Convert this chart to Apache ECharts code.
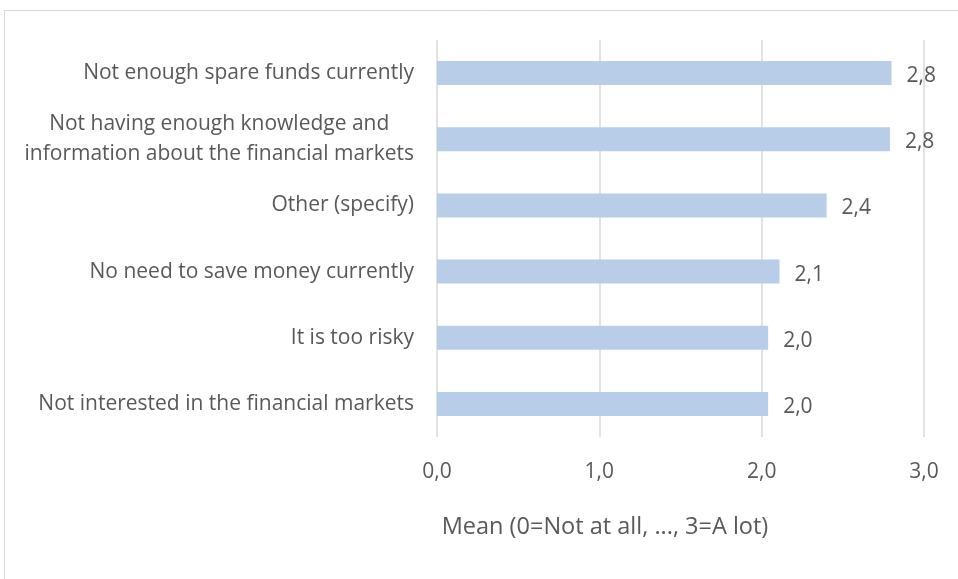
<!DOCTYPE html>
<html>
<head>
<meta charset="utf-8">
<script src="https://cdn.jsdelivr.net/npm/echarts@6/dist/echarts.min.js"></script>
<style>
  html, body { margin: 0; padding: 0; background: #ffffff; }
  #chart { width: 958px; height: 579px; }
</style>
</head>
<body>
<div id="chart"></div>
<script>
// Reasons for not investing, mean rating per reason
const categories = [
  'Not enough spare funds currently',
  'Not having enough knowledge and\ninformation about the financial markets',
  'Other (specify)',
  'No need to save money currently',
  'It is too risky',
  'Not interested in the financial markets'
];
const means = [2.80, 2.79, 2.40, 2.11, 2.04, 2.04];
const xTicks = [0, 1, 2, 3];
const xAxisTitle = 'Mean (0=Not at all, ..., 3=A lot)';

const FONT = '"Open Sans"';
const TEXT = '#595959';
const LABEL_SIZE = 21;
const fmt = v => v.toFixed(1).replace('.', ',');

const chart = echarts.init(document.getElementById('chart'), null, { renderer: 'canvas' });
chart.setOption({
  backgroundColor: '#ffffff',
  animation: false,
  graphic: [
    {
      type: 'rect',
      shape: { x: 4.5, y: 10.5, width: 1200, height: 1200 },
      style: { fill: 'none', stroke: '#d9d9d9', lineWidth: 1 },
      silent: true
    },
    {
      type: 'text',
      x: 605, y: 527,
      style: {
        text: xAxisTitle, fill: TEXT, font: '23.5px ' + FONT,
        align: 'center', verticalAlign: 'middle'
      }
    }
  ],
  grid: { left: 437, right: 34, top: 40, bottom: 142, containLabel: false },
  xAxis: {
    type: 'value',
    min: xTicks[0], max: xTicks[xTicks.length - 1], interval: 1,
    axisLine: { show: false },
    axisTick: { show: false },
    axisLabel: {
      margin: 25, color: TEXT, fontFamily: FONT, fontSize: LABEL_SIZE,
      formatter: v => fmt(v)
    },
    splitLine: { show: true, lineStyle: { color: '#d9d9d9', width: 1.5 } }
  },
  yAxis: {
    type: 'category',
    inverse: true,
    data: categories,
    axisLine: { show: false },
    axisTick: { show: false },
    axisLabel: {
      margin: 23, color: TEXT, fontFamily: FONT, fontSize: LABEL_SIZE,
      formatter: v => '{c|' + v.split('\n').join('}\n{c|') + '}',
      rich: { c: { align: 'center', color: TEXT, fontFamily: FONT, fontSize: LABEL_SIZE, lineHeight: 30 } }
    }
  },
  series: [{
    type: 'bar',
    data: means,
    barWidth: 24,
    itemStyle: { color: '#b7cde8' },
    label: {
      show: true, position: 'right', distance: 15,
      color: TEXT, fontFamily: FONT, fontSize: LABEL_SIZE,
      offset: [0, 3],
      formatter: p => fmt(p.value)
    }
  }]
});
</script>
</body>
</html>
